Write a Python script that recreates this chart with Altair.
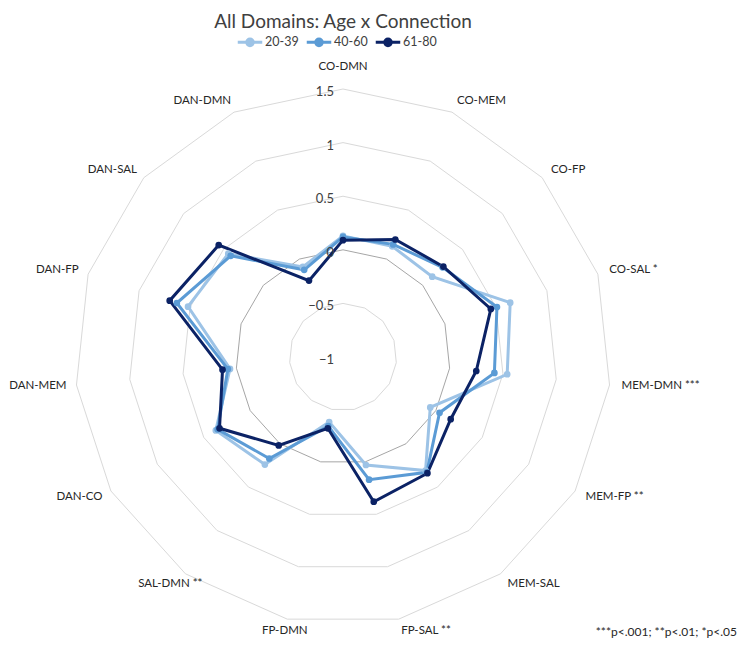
import altair as alt
import pandas as pd

# ---------------- data ----------------
categories = ["CO-DMN", "CO-MEM", "CO-FP", "CO-SAL", "MEM-DMN", "MEM-FP", "MEM-SAL",
              "FP-SAL", "FP-DMN", "SAL-DMN", "DAN-CO", "DAN-MEM", "DAN-FP", "DAN-SAL", "DAN-DMN"]
stars = ["", "", "", "*", "***", "**", "", "**", "", "**", "", "", "", "", ""]
groups = ["20-39", "40-60", "61-80"]
v_20_39 = [0.13, 0.13, 0.12, 0.64, 0.54, -0.06, 0.31, 0.03, -0.38, 0.24, 0.37, 0.06, 0.52, 0.44, -0.08]
v_40_60 = [0.12, 0.15, 0.25, 0.51, 0.42, 0.04, 0.33, 0.17, -0.34, 0.17, 0.35, 0.08, 0.63, 0.41, -0.11]
v_61_80 = [0.09, 0.20, 0.26, 0.45, 0.25, 0.16, 0.34, 0.38, -0.32, 0.02, 0.33, 0.13, 0.70, 0.56, -0.22]
tick_values = [-1, -0.5, 0, 0.5, 1, 1.5]
ring_values = [-0.5, 0, 0.5, 1, 1.5]
colors = ["#9DC3E6", "#5B9BD5", "#0B2265"]
title_text = "All Domains: Age x Connection"
footnote = "***p<.001; **p<.01; *p<.05"

# ---------------- layout ----------------
N = len(categories)
RMIN = -1.0
PX = 107.2          # pixels per unit
PT = 50             # top padding
W, H = 730, 581
CXP, CYP = 335, 357 - 8 - PT
XMIN, XMAX = -CXP / PX, (W - CXP) / PX
YMAX, YMIN = CYP / PX, -(H - CYP) / PX
FONT = "Lato"

# series table (closing point appended)
rows = []
for g, vals in zip(groups, [v_20_39, v_40_60, v_61_80]):
    for i in range(N + 1):
        rows.append({"group": g, "idx": i, "value": vals[i % N], "closing": i == N})
series = pd.DataFrame(rows)

ring_rows = []
for rv in ring_values:
    for i in range(N + 1):
        ring_rows.append({"ring": rv, "idx": i})
rings = pd.DataFrame(ring_rows)

labels = pd.DataFrame({"name": categories, "stars": stars, "idx": list(range(N))})
ticks = pd.DataFrame({"tick": tick_values})
foot = pd.DataFrame({"t": [footnote]})

xs = alt.Scale(domain=[XMIN, XMAX], nice=False, zero=False)
ys = alt.Scale(domain=[YMIN, YMAX], nice=False, zero=False)
X = lambda f: alt.X(f, type="quantitative", scale=xs, axis=None)
Y = lambda f: alt.Y(f, type="quantitative", scale=ys, axis=None)

polar = dict(ang=f"datum.idx * 2 * PI / {N}")

ring_chart = alt.Chart(rings).transform_calculate(**polar).transform_calculate(
    r=f"datum.ring - ({RMIN})"
).transform_calculate(
    px="datum.r * sin(datum.ang)", py="datum.r * cos(datum.ang)"
).mark_line(strokeWidth=1).encode(
    x=X("px"), y=Y("py"), detail="ring:N", order="idx:Q",
    stroke=alt.condition("datum.ring == 0", alt.value("#A6A6A6"), alt.value("#D9D9D9")),
)

sym = "M-1,0L1,0M-0.27,0a0.27,0.27 0 1,0 0.54,0a0.27,0.27 0 1,0 -0.54,0"
color_scale = alt.Scale(domain=groups, range=colors)

base = alt.Chart(series).transform_calculate(**polar).transform_calculate(
    r=f"datum.value - ({RMIN})"
).transform_calculate(
    px="datum.r * sin(datum.ang)", py="datum.r * cos(datum.ang)"
)

leg = alt.Legend(
    title=None, orient="none", direction="horizontal", legendX=228, legendY=-30,
    symbolType=sym, symbolSize=600, symbolStrokeWidth=3, labelFontSize=12.5,
    labelFont=FONT, labelColor="#404040", columnPadding=1, labelOffset=1,
)

lines = base.mark_line(strokeWidth=3).encode(
    x=X("px"), y=Y("py"), order="idx:Q",
    color=alt.Color("group:N", scale=color_scale, legend=leg),
)

points = base.transform_filter("!datum.closing").mark_point(
    filled=False, size=22, strokeWidth=2, opacity=1
).encode(
    x=X("px"), y=Y("py"),
    color=alt.Color("group:N", scale=color_scale, legend=leg),
    fill=alt.Fill("group:N", scale=color_scale, legend=leg),
)

lab_base = alt.Chart(labels).transform_calculate(**polar).transform_calculate(
    s="sin(datum.ang)", c="cos(datum.ang)",
    label="datum.stars ? datum.name + ' ' + datum.stars : datum.name",
).transform_calculate(
    side="datum.s > 0.15 ? 'left' : (datum.s < -0.3 ? 'right' : 'center')",
    rl=f"2.5 + 12 / {PX} + (abs(datum.s) < 0.15 ? 10 / {PX} : 0)",
).transform_calculate(
    lx=(f"datum.rl * datum.s + (datum.side == 'right' ? 2 / {PX} : 0)"
        f" + (datum.side == 'right' && datum.stars ? (8 + 7 * length(datum.stars)) / {PX} : 0)"),
    ly="datum.rl * datum.c",
)


def lab_layer(side):
    return lab_base.transform_filter(f"datum.side == '{side}'").mark_text(
        align=side, baseline="middle", fontSize=11.5, font=FONT, color="#262626"
    ).encode(x=X("lx"), y=Y("ly"), text="label:N")


tick_chart = alt.Chart(ticks).transform_calculate(
    r=f"datum.tick - ({RMIN})", zero="0"
).mark_text(align="right", baseline="middle", dx=-9, dy=3, fontSize=13, font=FONT, color="#404040").encode(
    x=X("zero:Q"), y=Y("r"), text=alt.Text("tick:Q", format="~g")
)

foot_chart = alt.Chart(foot).mark_text(
    align="right", baseline="middle", fontSize=12, font=FONT, color="#262626"
).encode(x=alt.value(729), y=alt.value(632 - 8 - PT), text="t:N")

chart = alt.layer(
    ring_chart, lines, points, tick_chart,
    lab_layer("left"), lab_layer("right"), lab_layer("center"), foot_chart,
).resolve_scale(color="shared").properties(
    width=W, height=H,
    autosize=alt.AutoSizeParams(type="none"),
    padding={"left": 0, "right": 0, "top": PT, "bottom": 0},
    title=alt.TitleParams(title_text, fontSize=19, font=FONT, fontWeight="normal",
                          color="#404040", anchor="middle", frame="group", dx=-30, dy=4, offset=0),
).configure_view(stroke=None)

chart.save("out.html", embed_options={"renderer": "svg", "actions": False})
